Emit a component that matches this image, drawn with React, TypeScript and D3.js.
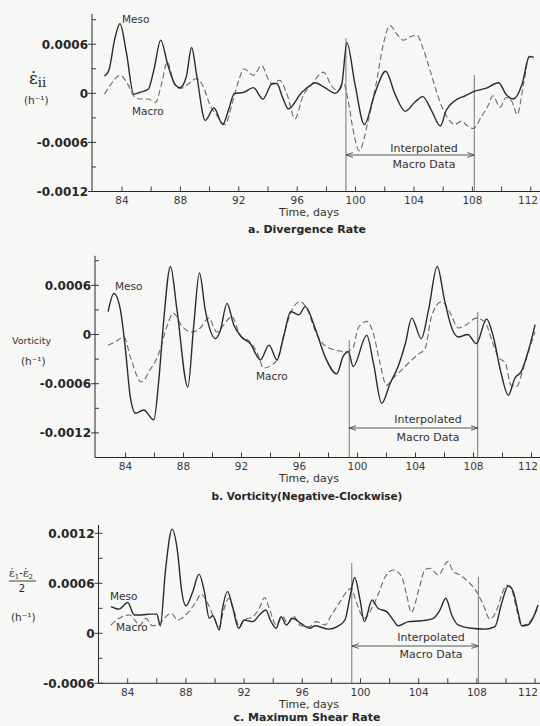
import React from 'react';
import * as d3 from 'd3';

type Pt = [number, number];

// tick labels
const dayLabels = [84, 88, 92, 96, 100, 104, 108, 112];
const rateTicksAB = [0.0006, 0, -0.0006, -0.0012];
const rateTicksC = [0.0012, 0.0006, 0, -0.0006];

// a. divergence rate (day, h^-1)
const divMeso: Pt[] = [
  [82.8, 0.00021], [83.1, 0.00028], [83.5, 0.00066], [83.86, 0.00085], [84.3, 0.0005],
  [84.8, -0.00001], [85.2, 0.00001], [85.8, 0.00005], [86.2, 0.0003], [86.65, 0.00065],
  [87.15, 0.00034], [87.6, 0.00012], [87.97, 0.00007], [88.4, 0.0002], [88.77, 0.00056],
  [89.1, 0.00024], [89.7, -0.00033], [90.3, -0.00018], [90.9, -0.00038], [91.3, -0.0002],
  [91.7, 0], [92.3, 0.00001], [93.0, 0.00007], [93.65, -0.00007], [94.3, 0.00012],
  [94.6, 0.00012], [95.0, -0.00005], [95.4, -0.00019], [96.3, 0.00001], [97.0, 0.00011],
  [97.2, 0.00013], [97.9, 0.00007], [98.6, 0], [99.05, 0.00011], [99.4, 0.00062],
  [99.96, 0.00011], [100.6, -0.00038], [101.3, -0.00001], [102.06, 0.00027], [102.7, -0.00001],
  [103.4, -0.00022], [104.1, -0.0001], [104.6, -0.00004], [105.2, -0.00021], [105.8, -0.0004],
  [106.2, -0.00021], [106.8, -0.00009], [107.5, -0.00003], [108.2, 0.00003], [108.9, 0.00006],
  [109.8, 0.00013], [110.3, -0.00001], [110.8, -0.00007], [111.4, 0.00011], [111.9, 0.00045],
  [112.2, 0.00044],
];
const divMacro: Pt[] = [
  [82.8, -0.00001], [83.2, 0.0001], [83.86, 0.00022], [84.4, 0.00011], [84.8, -0.00003],
  [85.2, -0.00007], [85.8, -0.00007], [86.3, -0.00011], [86.7, 0.00011], [87.1, 0.00038],
  [87.6, 0.00011], [88.0, 0.00006], [88.66, 0.00013], [89.1, 0.00018], [89.6, 0.00007],
  [90.0, -0.00013], [90.5, -0.00027], [91.05, -0.00038], [91.6, -0.00009], [92.0, 0.00016],
  [92.35, 0.0003], [93.0, 0.00022], [93.57, 0.00034], [94.0, 0.00018], [94.3, 0.00011],
  [94.8, 0.00016], [95.3, -0.00001], [95.85, -0.00031], [96.4, -0.00003], [97.0, 0.00011],
  [97.8, 0.00026], [98.36, 0.00009], [98.8, 0.00003], [99.2, 0.00011], [99.5, -0.0001],
  [99.8, -0.00042], [100.25, -0.0007], [100.87, -0.00033], [101.4, 0.00011], [101.9, 0.0006],
  [102.35, 0.00083], [102.8, 0.00073], [103.26, 0.00065], [103.7, 0.00069], [104.2, 0.00071],
  [104.6, 0.00056], [105.1, 0.00028], [105.67, -0.00005], [106.2, -0.00027], [106.8, -0.00038],
  [107.25, -0.00034], [107.6, -0.00039], [108.06, -0.00043], [108.6, -0.00029], [109.1, -0.00014],
  [109.4, -0.00003], [109.9, -0.00017], [110.3, -0.00005], [110.7, -0.0001], [111.07, -0.00026],
  [111.5, 0.00011], [111.9, 0.00045], [112.2, 0.00041],
];

// b. vorticity
const vortMeso: Pt[] = [
  [82.8, 0.00028], [83.2, 0.0005], [83.65, 0.0003], [84.0, -0.00019], [84.33, -0.00076],
  [84.7, -0.00096], [85.25, -0.00092], [85.95, -0.00104], [86.3, -0.00055], [86.6, 0.0001],
  [87.1, 0.00083], [87.55, 0.0003], [88.3, -0.00064], [88.7, 0.0001], [89.1, 0.00075],
  [89.5, 0.0003], [90.2, -0.00005], [90.54, 0.00005], [91.0, 0.00038], [91.46, 0.00012],
  [92.0, -0.00003], [92.6, -0.00011], [93.3, -0.00031], [93.9, -0.00013], [94.45, -0.00031],
  [94.9, -0.00003], [95.4, 0.00028], [95.95, 0.00024], [96.4, 0.00034], [97.07, 0.00008],
  [97.76, -0.00027], [98.57, -0.00048], [99.0, -0.00027], [99.37, -0.00021], [99.7, -0.00039],
  [100.64, -0.00001], [101.1, -0.00035], [101.67, -0.00084], [102.24, -0.0006], [102.8, -0.00039],
  [103.3, -0.00011], [103.74, 0.0002], [104.4, -0.00005], [104.9, 0.0003], [105.5, 0.00083],
  [106.0, 0.00042], [106.5, 0.00008], [106.95, -0.00003], [107.6, 0], [108.2, -0.00011],
  [108.9, 0.00019], [109.37, -0.00003], [109.9, -0.00047], [110.4, -0.00074], [110.86, -0.00053],
  [111.3, -0.00045], [111.8, -0.00019], [112.25, 0.00012],
];
const vortMacro: Pt[] = [
  [82.8, -0.00013], [83.3, -0.00009], [83.9, -0.00003], [84.33, -0.00027], [85.1, -0.00058],
  [85.7, -0.00043], [86.3, -0.00023], [86.86, 0.0001], [87.3, 0.00026], [87.9, 0.0001],
  [88.6, 0.00003], [89.16, 0.00008], [89.74, 0.0002], [90.3, 0.00003], [90.7, 0.0001],
  [91.34, 0.00022], [91.9, -0.00001], [92.6, -0.00009], [93.2, -0.00027], [93.5, -0.00041],
  [94.1, -0.00037], [94.45, -0.00031], [95.0, 0.00005], [95.6, 0.00034], [96.05, 0.0004],
  [96.6, 0.00028], [97.07, 0.00005], [97.6, -0.00011], [98.45, -0.00019], [99.25, -0.00021],
  [99.7, -0.00016], [100.05, 0.00008], [100.64, 0.00016], [101.1, 0.00001], [101.55, -0.00035],
  [102.0, -0.00062], [102.47, -0.00053], [103.05, -0.00043], [103.74, -0.00031], [104.2, -0.00024],
  [104.66, -0.00017], [105.1, 0.00022], [105.8, 0.0004], [106.4, 0.00026], [106.95, 0.00008],
  [107.5, 0.00012], [108.2, 0.0002], [108.8, 0.00015], [109.26, -0.00007], [109.7, -0.00027],
  [110.2, -0.00035], [110.6, -0.00062], [111.0, -0.00063], [111.4, -0.00043], [111.9, -0.00015],
  [112.25, 0.00003],
];

// c. maximum shear rate
const shearMeso: Pt[] = [
  [82.85, 0.00032], [83.4, 0.00029], [84.0, 0.00037], [84.45, 0.00022], [84.9, 0.00022],
  [85.6, 0.00023], [86.0, 0.00023], [86.24, 0.00009], [86.6, 0.00076], [87.05, 0.00125],
  [87.44, 0.00096], [87.7, 0.00052], [88.0, 0.00033], [88.47, 0.0005], [88.9, 0.00071],
  [89.27, 0.0005], [89.6, 0.00018], [89.85, 0.00021], [90.3, 0.00004], [90.5, 0.00028],
  [90.87, 0.0005], [91.2, 0.00032], [91.63, 0.00006], [92.0, 0.00016], [92.6, 0.00014],
  [93.05, 0.00022], [93.5, 0.00028], [93.8, 0.00016], [94.2, 0.00006], [94.54, 0.0002],
  [94.9, 0.0001], [95.34, 0.00018], [95.9, 0.00012], [96.5, 0.00006], [96.9, 0.00009],
  [97.8, 0.00005], [98.4, 0.00008], [98.93, 0.00016], [99.28, 0.00044], [99.6, 0.00067],
  [99.97, 0.0004], [100.26, 0.00014], [100.8, 0.0004], [101.2, 0.0003], [101.8, 0.00026],
  [102.25, 0.00016], [102.6, 0.00009], [103.3, 0.00014], [104.2, 0.00015], [105.0, 0.00018],
  [105.46, 0.00028], [105.86, 0.00042], [106.27, 0.00022], [106.7, 0.0001], [107.64, 0.00006],
  [108.56, 0.00005], [109.24, 0.00008], [109.7, 0.00036], [110.16, 0.00057], [110.5, 0.0005],
  [110.85, 0.00024], [111.08, 0.00009], [111.5, 0.0001], [111.9, 0.0002], [112.2, 0.00034],
];
const shearMacro: Pt[] = [
  [82.85, 0.0001], [83.4, 0.00018], [84.1, 0.00022], [84.57, 0.00014], [84.8, 0.00009],
  [85.26, 0.00018], [85.7, 0.00009], [86.15, 0.00011], [86.63, 0.0002], [86.98, 0.00024],
  [87.44, 0.00016], [87.7, 0.00018], [88.2, 0.00026], [88.7, 0.00038], [89.04, 0.00047],
  [89.5, 0.00036], [89.95, 0.00018], [90.3, 0.00008], [90.6, 0.00028], [90.94, 0.00042],
  [91.33, 0.00026], [91.67, 0.00008], [92.0, 0.00016], [92.6, 0.0002], [93.05, 0.0003],
  [93.4, 0.00043], [93.73, 0.0003], [94.2, 0.0001], [94.65, 0.0002], [95.0, 0.00012],
  [95.38, 0.00021], [95.9, 0.00009], [96.5, 0.00008], [96.94, 0.00014], [97.56, 0.0001],
  [98.0, 0.00022], [98.6, 0.00038], [99.05, 0.0005], [99.35, 0.00054], [99.74, 0.00036],
  [100.26, 0.00018], [100.77, 0.0003], [101.2, 0.00046], [101.7, 0.00068], [102.25, 0.00076],
  [102.83, 0.00068], [103.17, 0.00046], [103.5, 0.00025], [104.0, 0.00052], [104.43, 0.00076],
  [104.78, 0.00078], [105.35, 0.0007], [106.0, 0.00086], [106.38, 0.00074], [106.84, 0.0007],
  [107.4, 0.00062], [107.98, 0.0005], [108.44, 0.00034], [108.9, 0.00017], [109.36, 0.00028],
  [109.7, 0.00046], [110.05, 0.00058], [110.4, 0.00052], [110.74, 0.00028], [111.08, 0.00009],
  [111.5, 0.00012], [111.9, 0.0002], [112.2, 0.00032],
];

// interpolated macro data window (days)
const interpA = [99.34, 108.13];
const interpB = [99.43, 108.29];
const interpC = [99.4, 108.1];

const SANS = '"DejaVu Sans", sans-serif';
const INK = '#262626';

const panels = [
  {
    meso: divMeso, macro: divMacro, ticks: rateTicksAB, interp: interpA,
    title: 'a. Divergence Rate',
    xRange: [122, 530.8], axisLeft: 92, yDomain: [-0.0012, 0.00097], yRange: [191.5, 14],
    interpTop: [38, 75], arrowY: 155, interpX: 424, interpY: [152, 168],
    mesoAt: [122, 23], macroAt: [132, 115], titleY: 233,
  },
  {
    meso: vortMeso, macro: vortMacro, ticks: rateTicksAB, interp: interpB,
    title: 'b. Vorticity(Negative-Clockwise)',
    xRange: [125.5, 531.5], axisLeft: 95, yDomain: [-0.0015, 0.00096], yRange: [457.5, 255.8],
    interpTop: [340, 312], arrowY: 428, interpX: 428, interpY: [423, 441],
    mesoAt: [115, 290], macroAt: [256, 380], titleY: 500,
  },
  {
    meso: shearMeso, macro: shearMacro, ticks: rateTicksC, interp: interpC,
    title: 'c. Maximum Shear Rate',
    xRange: [127.7, 535.1], axisLeft: 98.5, yDomain: [-0.0006, 0.0013], yRange: [683.3, 525],
    interpTop: [563, 577], arrowY: 646, interpX: 431, interpY: [641, 658],
    mesoAt: [110, 600], macroAt: [116, 631], titleY: 721,
  },
];

function Panel({ p }: { p: any }) {
  const x = d3.scaleLinear().domain([84, 112]).range(p.xRange);
  const y = d3.scaleLinear().domain(p.yDomain).range(p.yRange);
  const line = d3.line<Pt>().x(d => x(d[0])).y(d => y(d[1])).curve(d3.curveMonotoneX);
  const yBot = y(p.yDomain[0]);
  const yTop = y(p.yDomain[1]);
  const step = 0.0003;
  const minorY = d3.range(Math.round(p.yDomain[0] / step), Math.floor(p.yDomain[1] / step + 1e-6) + 1)
    .map(k => k * step);
  const minorX = d3.range(84, 113, 2);
  const lx = x(p.interp[0]);
  const rx = x(p.interp[1]);
  const fmt = (v: number) => (v === 0 ? '0' : (v < 0 ? '-' : '') + Math.abs(v).toFixed(4));

  return (
    <g>
      {/* axes */}
      <line x1={p.axisLeft} x2={p.axisLeft} y1={yTop} y2={yBot} stroke={INK} strokeWidth={1} />
      <line x1={p.axisLeft} x2={540} y1={yBot} y2={yBot} stroke={INK} strokeWidth={1} />
      {minorY.map((v: number) => (
        <line key={'ym' + v} x1={p.axisLeft} x2={p.axisLeft + 4} y1={y(v)} y2={y(v)} stroke={INK} strokeWidth={0.9} />
      ))}
      {p.ticks.map((v: number) => (
        <g key={'yt' + v}>
          <line x1={p.axisLeft - 4} x2={p.axisLeft} y1={y(v)} y2={y(v)} stroke={INK} strokeWidth={0.9} />
          <text x={p.axisLeft - 4} y={y(v) + 4.5} textAnchor="end" fontFamily={SANS} fontWeight="bold"
            fontSize={12} fill={INK}>{fmt(v)}</text>
        </g>
      ))}
      {minorX.map(d => (
        <line key={'xm' + d} x1={x(d)} x2={x(d)} y1={yBot} y2={yBot - 5} stroke={INK} strokeWidth={0.9} />
      ))}
      {dayLabels.map(d => (
        <text key={'xl' + d} x={Math.min(x(d), 528)} y={yBot + 12.5} textAnchor="middle" fontFamily={SANS}
          fontSize={10.5} fill="#3a3a3a">{d}</text>
      ))}
      <text x={309} y={yBot + 24.5} textAnchor="middle" fontFamily={SANS} fontSize={11} fill="#333">Time, days</text>
      <text x={307} y={p.titleY} textAnchor="middle" fontFamily={SANS} fontWeight="bold"
        fontSize={p.title.length > 25 ? 10.5 : 11} fill={INK}>{p.title}</text>

      {/* interpolated window */}
      <line x1={lx} x2={lx} y1={p.interpTop[0]} y2={yBot} stroke="#555" strokeWidth={0.8} />
      <line x1={rx} x2={rx} y1={p.interpTop[1]} y2={yBot} stroke="#555" strokeWidth={0.8} />
      <line x1={lx} x2={rx} y1={p.arrowY} y2={p.arrowY} stroke="#444" strokeWidth={0.9}
        markerStart="url(#arr)" markerEnd="url(#arr)" />
      <text x={p.interpX} y={p.interpY[0]} textAnchor="middle" fontFamily={SANS} fontSize={11} fill="#333">Interpolated</text>
      <text x={p.interpX} y={p.interpY[1]} textAnchor="middle" fontFamily={SANS} fontSize={11} fill="#333">Macro Data</text>

      {/* series */}
      <path d={line(p.macro) || ''} fill="none" stroke="#6a6a6a" strokeWidth={1.1} strokeDasharray="6,3" />
      <path d={line(p.meso) || ''} fill="none" stroke="#2b2b2b" strokeWidth={1.4} />
      <text x={p.mesoAt[0]} y={p.mesoAt[1]} fontFamily={SANS} fontSize={10.5} fill="#333">Meso</text>
      <text x={p.macroAt[0]} y={p.macroAt[1]} fontFamily={SANS} fontSize={10.5} fill="#333">Macro</text>
    </g>
  );
}

export default function App() {
  return (
    <svg width={540} height={726} viewBox="0 0 540 726"
      style={{ position: 'absolute', left: 0, top: 0, background: '#f7f7f5' }}>
      <defs>
        <marker id="arr" viewBox="0 0 10 10" refX={10} refY={5} markerWidth={7} markerHeight={7}
          orient="auto-start-reverse" markerUnits="userSpaceOnUse">
          <path d="M0,1.5 L10,5 L0,8.5" fill="none" stroke="#444" strokeWidth={1.2} />
        </marker>
      </defs>
      <rect width={540} height={726} fill="#f7f7f5" />
      {panels.map((p, i) => <Panel key={i} p={p} />)}

      {/* y axis titles */}
      <text x={29} y={84} fontFamily='"DejaVu Serif", serif' fontSize={17} fill={INK}>
        ε̇<tspan fontSize={13} dy={3}>ii</tspan>
      </text>
      <text x={24} y={104} fontFamily={SANS} fontSize={10.5} fill="#333">(h⁻¹)</text>

      <text x={12} y={344} fontFamily={SANS} fontSize={9.5} fill="#333">Vorticity</text>
      <text x={21} y={365} fontFamily={SANS} fontSize={10.5} fill="#333">(h⁻¹)</text>

      <text x={9} y={577} fontFamily='"DejaVu Serif", serif' fontSize={11} fill={INK}>
        ε̇<tspan fontSize={7} dy={2}>1</tspan><tspan dy={-2}>-</tspan>ε̇<tspan fontSize={7} dy={2}>2</tspan>
      </text>
      <line x1={9} x2={36} y1={581} y2={581} stroke={INK} strokeWidth={0.9} />
      <text x={22} y={592} textAnchor="middle" fontFamily={SANS} fontSize={10} fill={INK}>2</text>
      <text x={11} y={621} fontFamily={SANS} fontSize={10.5} fill="#333">(h⁻¹)</text>
    </svg>
  );
}
